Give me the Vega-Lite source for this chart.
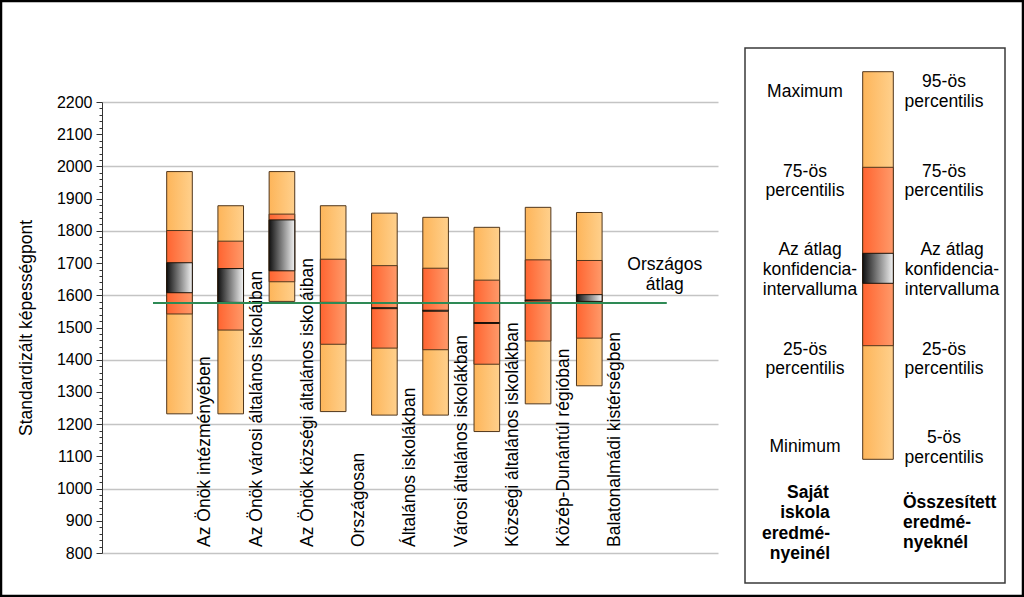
{
  "$schema": "https://vega.github.io/schema/vega-lite/v6.json",
  "width": 616,
  "height": 451,
  "autosize": {"type": "none"},
  "padding": {"left": 102, "top": 102, "right": 306, "bottom": 44},
  "background": "white",
  "config": {
    "view": {"stroke": null},
    "font": "Liberation Sans",
    "axisY": {
      "tickCount": 70,
      "format": "d",
      "labelExpr": "datum.value % 100 === 0 ? datum.label : ''",
      "labelOverlap": false,
      "labelFontSize": 16,
      "labelColor": "#000",
      "labelPadding": 4,
      "tickSize": {"condition": {"test": "datum.value % 100 === 0", "value": 6}, "value": 3},
      "tickColor": "#333",
      "domainColor": "#333",
      "grid": false,
      "titleFontSize": 17.5,
      "titleFontWeight": "normal",
      "titleColor": "#000",
      "titlePadding": 21
    }
  },
  "resolve": {"scale": {"x": "independent", "y": "independent"}},
  "layer": [
    {
      "data": {"values": [{}]},
      "mark": {"type": "rule", "opacity": 0},
      "encoding": {
        "y": {"datum": 800, "type": "quantitative",
              "scale": {"domain": [800, 2200], "nice": false, "zero": false},
              "axis": {"orient": "left", "tickCount": 7, "labels": false, "ticks": false, "domain": false,
                       "grid": true, "gridColor": "#c4c4c4", "gridWidth": 1.5, "gridOpacity": 1, "title": null}}
      }
    },
    {
      "layer": [
        {
          "data": {"name": "scores", "values": [
            {"cat": "Az Önök intézményében", "min": 1232, "q1": 1542, "cilo": 1608, "cihi": 1701, "q3": 1801, "max": 1984},
            {"cat": "Az Önök városi általános iskoláiban", "min": 1232, "q1": 1492, "cilo": 1578, "cihi": 1683, "q3": 1768, "max": 1878},
            {"cat": "Az Önök községi általános iskoláiban", "min": 1581, "q1": 1642, "cilo": 1676, "cihi": 1834, "q3": 1852, "max": 1984},
            {"cat": "Országosan", "min": 1239, "q1": 1448, "cilo": 1575, "cihi": 1578, "q3": 1712, "max": 1878},
            {"cat": "Általános iskolákban", "min": 1228, "q1": 1436, "cilo": 1558.5, "cihi": 1561.5, "q3": 1692, "max": 1855},
            {"cat": "Városi általános iskolákban", "min": 1228, "q1": 1431, "cilo": 1550.5, "cihi": 1553.5, "q3": 1684, "max": 1842},
            {"cat": "Községi általános iskolákban", "min": 1177, "q1": 1386, "cilo": 1512.5, "cihi": 1515.5, "q3": 1647, "max": 1811},
            {"cat": "Közép-Dunántúl régióban", "min": 1263, "q1": 1458, "cilo": 1582.5, "cihi": 1585.5, "q3": 1710, "max": 1873},
            {"cat": "Balatonalmádi kistérségben", "min": 1319, "q1": 1467, "cilo": 1581, "cihi": 1602, "q3": 1708, "max": 1857}
          ]},
          "mark": {"type": "bar", "stroke": "#50361c", "strokeWidth": 1,
                   "fill": {"gradient": "linear", "x1": 0, "y1": 0, "x2": 1, "y2": 0,
                            "stops": [{"offset": 0, "color": "#fdb55a"}, {"offset": 1, "color": "#ffd08c"}]}},
          "encoding": {
            "x": {"field": "cat", "type": "nominal", "sort": null, "axis": null,
                  "scale": {"domain": [" ", "Az Önök intézményében", "Az Önök városi általános iskoláiban", "Az Önök községi általános iskoláiban", "Országosan", "Általános iskolákban", "Városi általános iskolákban", "Községi általános iskolákban", "Közép-Dunántúl régióban", "Balatonalmádi kistérségben", "  ", "   "],
                            "paddingInner": 0.5, "paddingOuter": 0.263, "round": false}},
            "y": {"field": "min", "type": "quantitative",
                  "scale": {"domain": [800, 2200], "nice": false, "zero": false},
                  "axis": {"title": "Standardizált képességpont", "orient": "left"}},
            "y2": {"field": "max"}
          }
        },
        {
          "data": {"name": "scores"},
          "mark": {"type": "bar", "stroke": "#50361c", "strokeWidth": 1,
                   "fill": {"gradient": "linear", "x1": 0, "y1": 0, "x2": 1, "y2": 0,
                            "stops": [{"offset": 0, "color": "#ff6430"}, {"offset": 1, "color": "#ff9a6a"}]}},
          "encoding": {
            "x": {"field": "cat", "type": "nominal", "sort": null, "axis": null},
            "y": {"field": "q1", "type": "quantitative"}, "y2": {"field": "q3"}}
        },
        {
          "data": {"name": "scores"},
          "mark": {"type": "bar", "stroke": "#1a1209", "strokeWidth": 1,
                   "fill": {"gradient": "linear", "x1": 0, "y1": 0, "x2": 1, "y2": 0,
                            "stops": [{"offset": 0, "color": "#111111"}, {"offset": 1, "color": "#f2f2f2"}]}},
          "encoding": {
            "x": {"field": "cat", "type": "nominal", "sort": null, "axis": null},
            "y": {"field": "cilo", "type": "quantitative"}, "y2": {"field": "cihi"}}
        },
        {
          "data": {"name": "scores"},
          "mark": {"type": "text", "angle": 270, "align": "left", "baseline": "middle", "xOffset": 26, "dx": 6, "fontSize": 17.5, "color": "#000"},
          "encoding": {
            "x": {"field": "cat", "type": "nominal", "sort": null, "axis": null},
            "y": {"datum": 800, "type": "quantitative"},
            "text": {"field": "cat"}
          }
        },
        {
          "data": {"values": [{"label": "Országos\nátlag", "avg": 1576}]},
          "mark": {"type": "rule", "color": "#2e8a55", "strokeWidth": 2, "xOffset": -26.5, "x2Offset": 77.5},
          "encoding": {
            "x": {"datum": "Az Önök intézményében", "type": "nominal", "axis": null},
            "x2": {"datum": "Balatonalmádi kistérségben"},
            "y": {"field": "avg", "type": "quantitative"}
          }
        },
        {
          "data": {"values": [{"label": "Országos\nátlag", "avg": 1576}]},
          "mark": {"type": "text", "align": "center", "baseline": "middle", "xOffset": 75.5, "fontSize": 17.5, "lineBreak": "\n", "lineHeight": 20, "color": "#000"},
          "encoding": {
            "x": {"datum": "Balatonalmádi kistérségben", "type": "nominal", "axis": null},
            "y": {"datum": 1694, "type": "quantitative"},
            "text": {"field": "label"}
          }
        }
      ]
    },
    {
      "data": {"values": [
        {"t": "Maximum", "col": "L", "lx": 60, "ly": 43.7},
        {"t": "75-ös", "col": "L", "lx": 60, "ly": 123.7},
        {"t": "percentilis", "col": "L", "lx": 60, "ly": 142.7},
        {"t": "Az átlag", "col": "L", "lx": 65, "ly": 202},
        {"t": "konfidencia-", "col": "L", "lx": 65, "ly": 222},
        {"t": "intervalluma", "col": "L", "lx": 65, "ly": 242},
        {"t": "25-ös", "col": "L", "lx": 60, "ly": 302},
        {"t": "percentilis", "col": "L", "lx": 60, "ly": 321},
        {"t": "Minimum", "col": "L", "lx": 60, "ly": 399},
        {"t": "95-ös", "col": "R", "lx": 199, "ly": 33.7},
        {"t": "percentilis", "col": "R", "lx": 199, "ly": 53.7},
        {"t": "75-ös", "col": "R", "lx": 199, "ly": 123.7},
        {"t": "percentilis", "col": "R", "lx": 199, "ly": 142.7},
        {"t": "Az átlag", "col": "R", "lx": 207, "ly": 202},
        {"t": "konfidencia-", "col": "R", "lx": 207, "ly": 222},
        {"t": "intervalluma", "col": "R", "lx": 207, "ly": 242},
        {"t": "25-ös", "col": "R", "lx": 199, "ly": 302},
        {"t": "percentilis", "col": "R", "lx": 199, "ly": 321},
        {"t": "5-ös", "col": "R", "lx": 199, "ly": 390},
        {"t": "percentilis", "col": "R", "lx": 199, "ly": 410},
        {"t": "Saját", "col": "LB", "lx": 63, "ly": 445},
        {"t": "iskola", "col": "LB", "lx": 60, "ly": 465},
        {"t": "eredmé-", "col": "LB", "lx": 51, "ly": 486},
        {"t": "nyeinél", "col": "LB", "lx": 55, "ly": 506},
        {"t": "Összesített", "col": "RB", "lx": 158, "ly": 455},
        {"t": "eredmé-", "col": "RB", "lx": 158, "ly": 475},
        {"t": "nyeknél", "col": "RB", "lx": 158, "ly": 495}
      ]},
      "layer": [
        {
          "data": {"values": [{}]},
          "mark": {"type": "rect", "fill": null, "stroke": "#000", "strokeWidth": 2.5},
          "encoding": {
            "x": {"datum": -744, "type": "quantitative", "axis": null,
                  "scale": {"domain": [0, 260], "range": [643, 903], "nice": false, "zero": false}},
            "x2": {"datum": 278},
            "y": {"datum": -47, "type": "quantitative", "axis": null,
                  "scale": {"domain": [0, 535], "range": [-54, 481], "nice": false, "zero": false}},
            "y2": {"datum": 548}
          }
        },
        {
          "data": {"values": [{}]},
          "mark": {"type": "rect", "fill": "white", "stroke": "#3a3a3a", "strokeWidth": 1.5},
          "encoding": {
            "x": {"datum": 0, "type": "quantitative", "axis": null}, "x2": {"datum": 260},
            "y": {"datum": 0, "type": "quantitative", "axis": null}, "y2": {"datum": 535}
          }
        },
        {
          "data": {"values": [{}]},
          "mark": {"type": "rect", "stroke": "#50361c", "strokeWidth": 1,
                   "fill": {"gradient": "linear", "x1": 0, "y1": 0, "x2": 1, "y2": 0,
                            "stops": [{"offset": 0, "color": "#fdb55a"}, {"offset": 1, "color": "#ffd08c"}]}},
          "encoding": {
            "x": {"datum": 117.7, "type": "quantitative", "axis": null}, "x2": {"datum": 148.3},
            "y": {"datum": 23.7, "type": "quantitative", "axis": null}, "y2": {"datum": 411.3}
          }
        },
        {
          "data": {"values": [{}]},
          "mark": {"type": "rect", "stroke": "#50361c", "strokeWidth": 1,
                   "fill": {"gradient": "linear", "x1": 0, "y1": 0, "x2": 1, "y2": 0,
                            "stops": [{"offset": 0, "color": "#ff6430"}, {"offset": 1, "color": "#ff9a6a"}]}},
          "encoding": {
            "x": {"datum": 117.7, "type": "quantitative", "axis": null}, "x2": {"datum": 148.3},
            "y": {"datum": 119.3, "type": "quantitative", "axis": null}, "y2": {"datum": 297.7}
          }
        },
        {
          "data": {"values": [{}]},
          "mark": {"type": "rect", "stroke": "#1a1209", "strokeWidth": 1,
                   "fill": {"gradient": "linear", "x1": 0, "y1": 0, "x2": 1, "y2": 0,
                            "stops": [{"offset": 0, "color": "#111111"}, {"offset": 1, "color": "#f2f2f2"}]}},
          "encoding": {
            "x": {"datum": 117.7, "type": "quantitative", "axis": null}, "x2": {"datum": 148.3},
            "y": {"datum": 205.3, "type": "quantitative", "axis": null}, "y2": {"datum": 235.3}
          }
        },
        {
          "transform": [{"filter": "datum.col === 'L' || datum.col === 'R'"}],
          "mark": {"type": "text", "align": "center", "baseline": "middle", "fontSize": 17.5, "color": "#000"},
          "encoding": {
            "x": {"field": "lx", "type": "quantitative", "axis": null},
            "y": {"field": "ly", "type": "quantitative", "axis": null},
            "text": {"field": "t"}
          }
        },
        {
          "transform": [{"filter": "datum.col === 'LB'"}],
          "mark": {"type": "text", "align": "center", "baseline": "middle", "fontSize": 17.5, "fontWeight": "bold", "color": "#000"},
          "encoding": {
            "x": {"field": "lx", "type": "quantitative", "axis": null},
            "y": {"field": "ly", "type": "quantitative", "axis": null},
            "text": {"field": "t"}
          }
        },
        {
          "transform": [{"filter": "datum.col === 'RB'"}],
          "mark": {"type": "text", "align": "left", "baseline": "middle", "fontSize": 17.5, "fontWeight": "bold", "color": "#000"},
          "encoding": {
            "x": {"field": "lx", "type": "quantitative", "axis": null},
            "y": {"field": "ly", "type": "quantitative", "axis": null},
            "text": {"field": "t"}
          }
        }
      ]
    }
  ]
}
